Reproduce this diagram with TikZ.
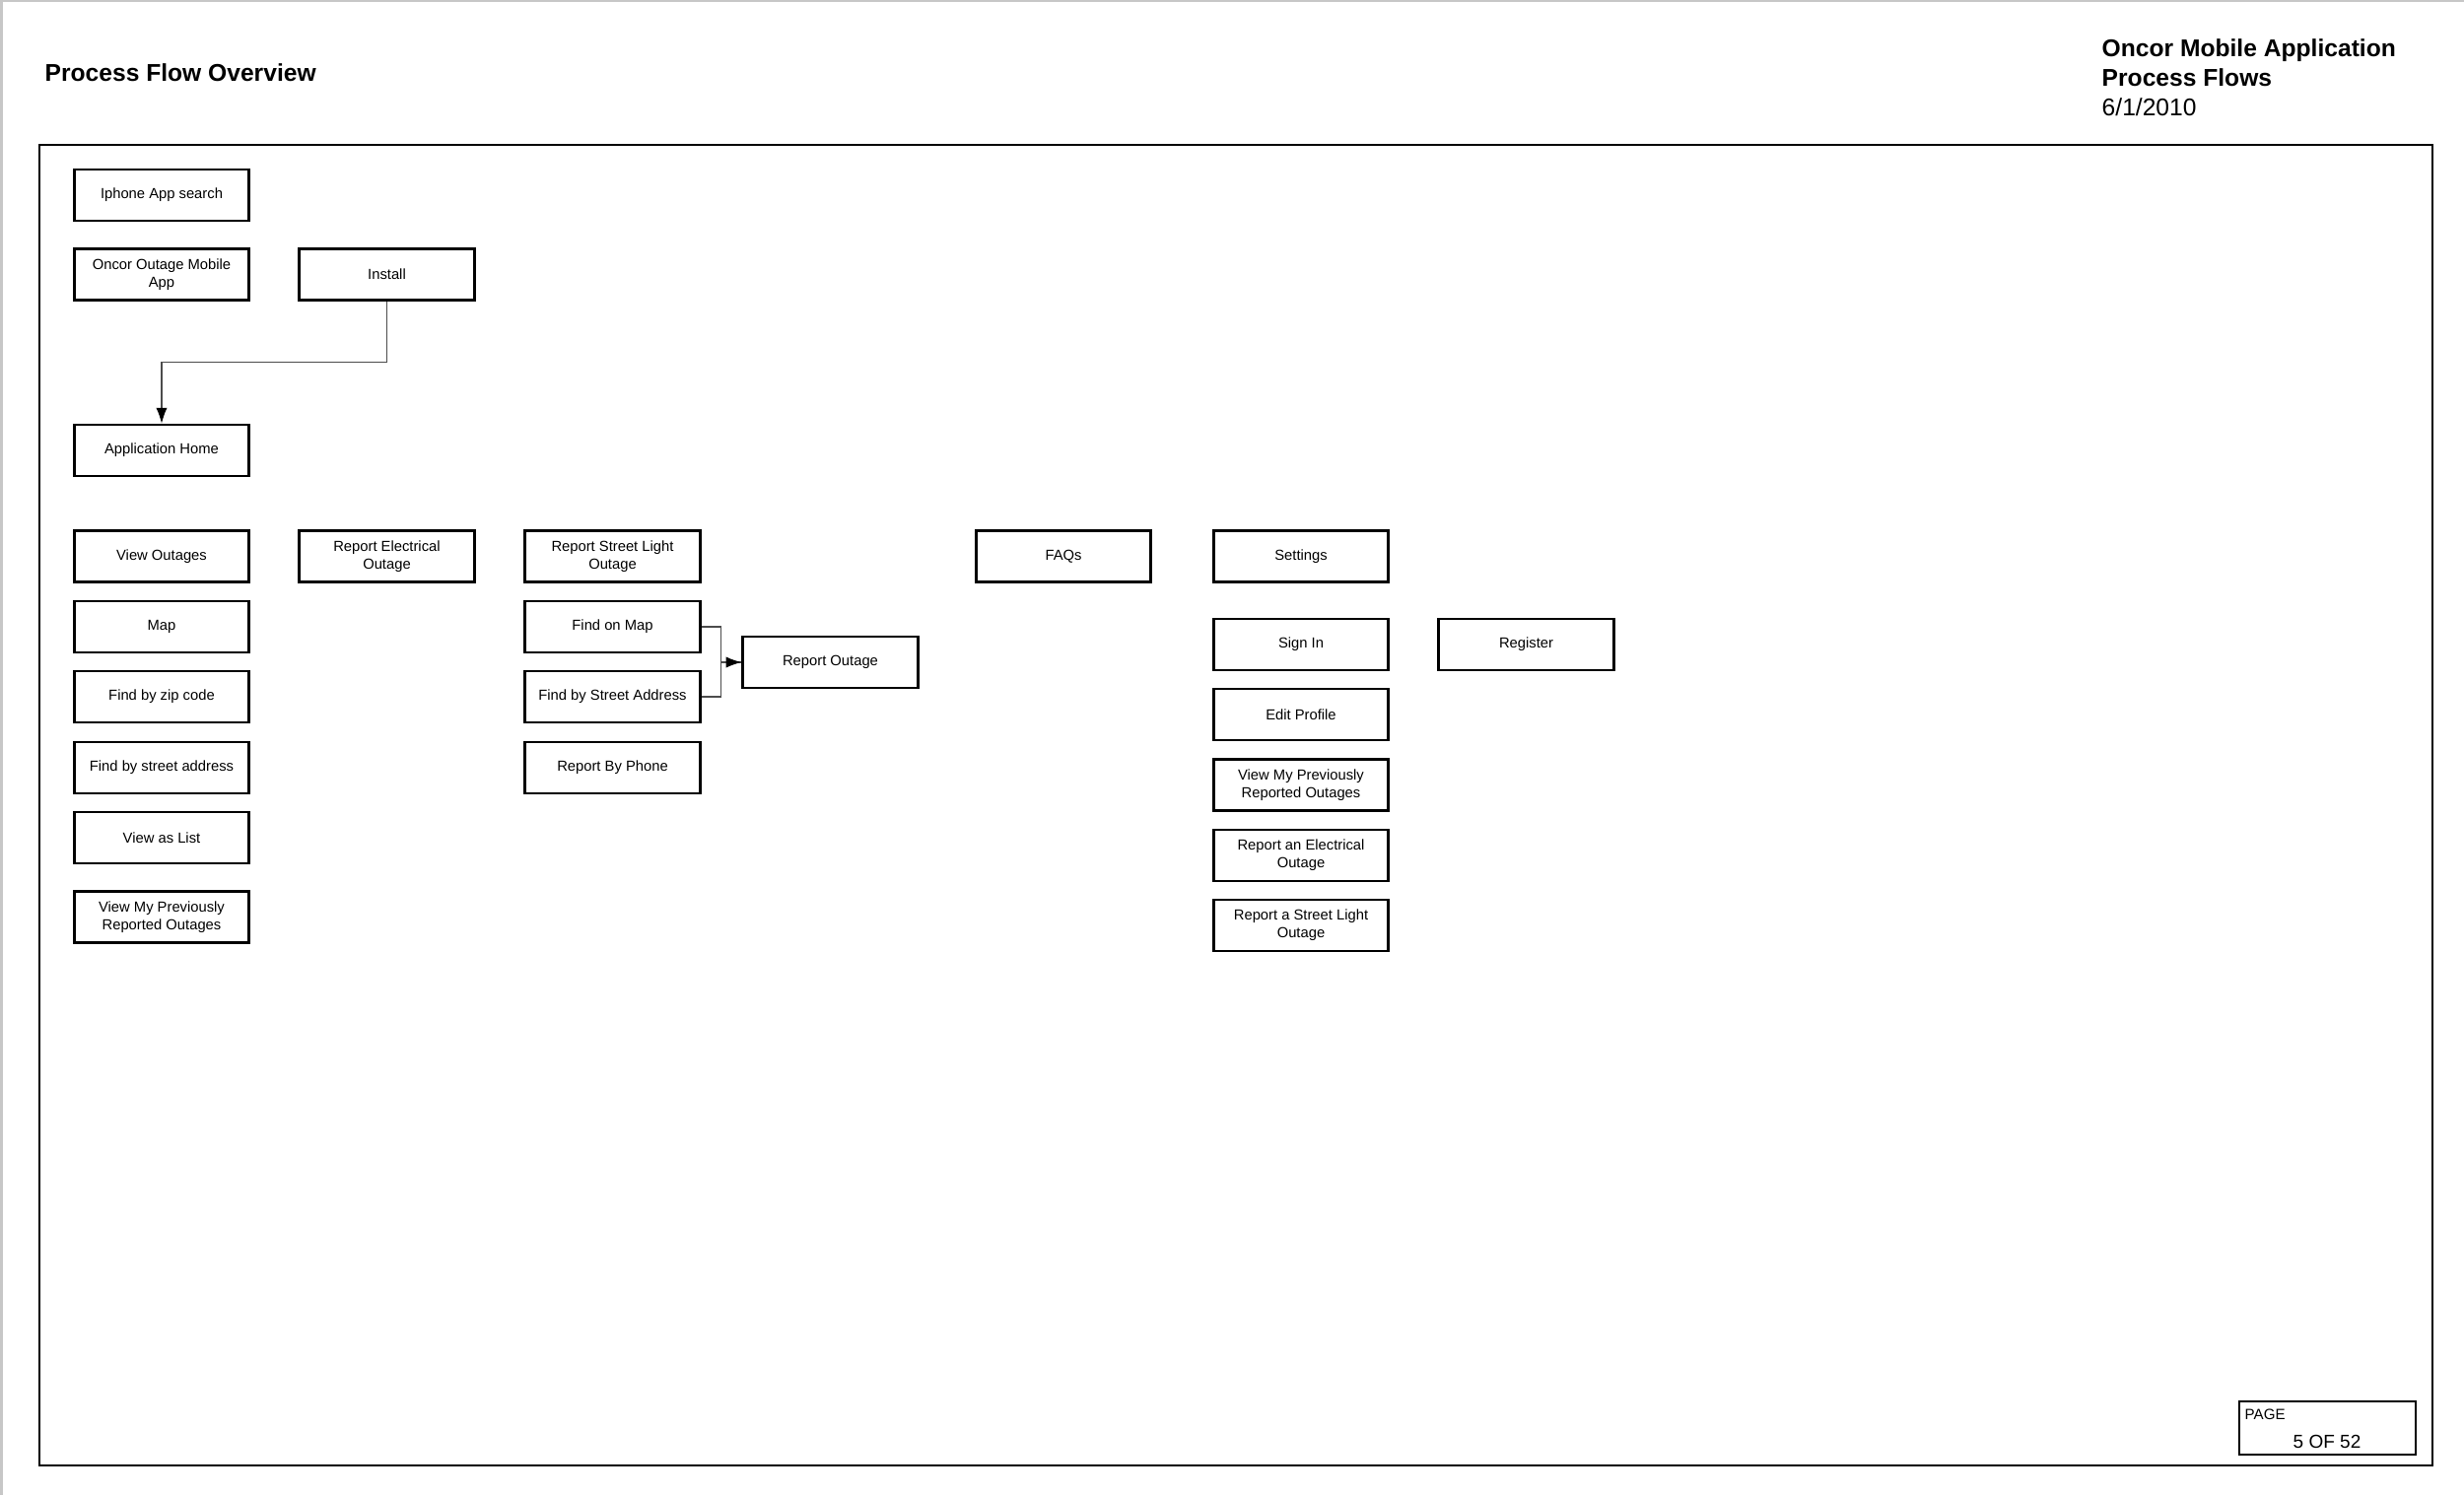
\documentclass[tikz,border=0pt]{standalone}
\usepackage{fontspec}
\setmainfont{Liberation Sans}
\usepackage{tikz}
\usetikzlibrary{arrows.meta}
\tikzset{>={Latex[length=4.5pt,width=3.2pt,color=black]}}

\begin{document}
\begin{tikzpicture}[x=0.01cm, y=-0.01cm]
\tikzset{box/.style={draw, line width=0.8pt, minimum width=1.774cm, minimum height=0.52cm, inner sep=0pt, align=center, font=\fontsize{4.2}{5.1}\selectfont}}
\tikzset{link/.style={draw=black!70, line width=0.3pt}}
\tikzset{hdr/.style={anchor=base west, inner sep=0pt, font=\fontsize{7}{8}\selectfont}}
    \useasboundingbox (0,0) rectangle (2500,1517);
    \fill[black!22] (0,0) rectangle (3,1517);
    \fill[black!22] (0,0) rectangle (2500,2);
    \draw[line width=0.6pt] (40,147) rectangle (2468,1487);

    \node[hdr, font=\fontsize{7}{8}\selectfont\bfseries] (Ttl) at (45,82) {Process Flow Overview};
    \node[hdr, font=\fontsize{7}{8}\selectfont\bfseries] (HdrA) at (2132,57) {Oncor Mobile Application};
    \node[hdr, font=\fontsize{7}{8}\selectfont\bfseries] (HdrB) at (2132,87) {Process Flows};
    \node[hdr] (HdrC) at (2132,117) {6/1/2010};
% % % % % % % % % % % % % % % % % % %
    \node[box] (Srch) at (164,198) {Iphone App search};
    \node[box] (Oapp) at (164,278.5) {Oncor Outage Mobile\\App};
    \node[box] (Inst) at (392.5,278.5) {Install};
    \node[box] (Home) at (164,457) {Application Home};

    \draw[link, ->] (Inst.south) -- ++(0,62) -| (Home.north);
% % % % % % % % % % % % % % % % % % %
    \node[box] (Vout) at (164,564.5) {View Outages};
    \node[box] (Vmap) at (164,636) {Map};
    \node[box] (Vzip) at (164,707) {Find by zip code};
    \node[box] (Vstr) at (164,779) {Find by street address};
    \node[box] (Vlst) at (164,850) {View as List};
    \node[box] (Vprv) at (164,930.5) {View My Previously\\Reported Outages};

    \node[box] (Elec) at (392.5,564.5) {Report Electrical\\Outage};
% % % % % % % % % % % % % % % % % % %
    \node[box] (Slgt) at (621.5,564.5) {Report Street Light\\Outage};
    \node[box] (Fmap) at (621.5,636) {Find on Map};
    \node[box] (Fstr) at (621.5,707) {Find by Street Address};
    \node[box] (Fphn) at (621.5,779) {Report By Phone};
    \node[box] (Rout) at (842.5,672) {Report Outage};

    \draw[link] (Fmap.east) -- ++(20,0) |- (Rout.west);
    \draw[link, ->] (Fstr.east) -- ++(20,0) |- (Rout.west);
% % % % % % % % % % % % % % % % % % %
    \node[box] (Faqs) at (1079,564.5) {FAQs};

    \node[box] (Sett) at (1320,564.5) {Settings};
    \node[box] (Sign) at (1320,654) {Sign In};
    \node[box] (Regi) at (1548.5,654) {Register};
    \node[box] (Edit) at (1320,725) {Edit Profile};
    \node[box] (Sprv) at (1320,796.5) {View My Previously\\Reported Outages};
    \node[box] (Selc) at (1320,868) {Report an Electrical\\Outage};
    \node[box] (Sslt) at (1320,939) {Report a Street Light\\Outage};
% % % % % % % % % % % % % % % % % % %
    \draw[line width=0.75pt] (2272,1422) rectangle (2451,1476);
    \node[anchor=base west, inner sep=0pt, font=\fontsize{4.3}{5}\selectfont] (Pgl) at (2277,1440) {PAGE};
    \node[anchor=base, inner sep=0pt, font=\fontsize{5.4}{6}\selectfont] (Pgn) at (2361,1469) {5 OF 52};
\end{tikzpicture}
\end{document}
